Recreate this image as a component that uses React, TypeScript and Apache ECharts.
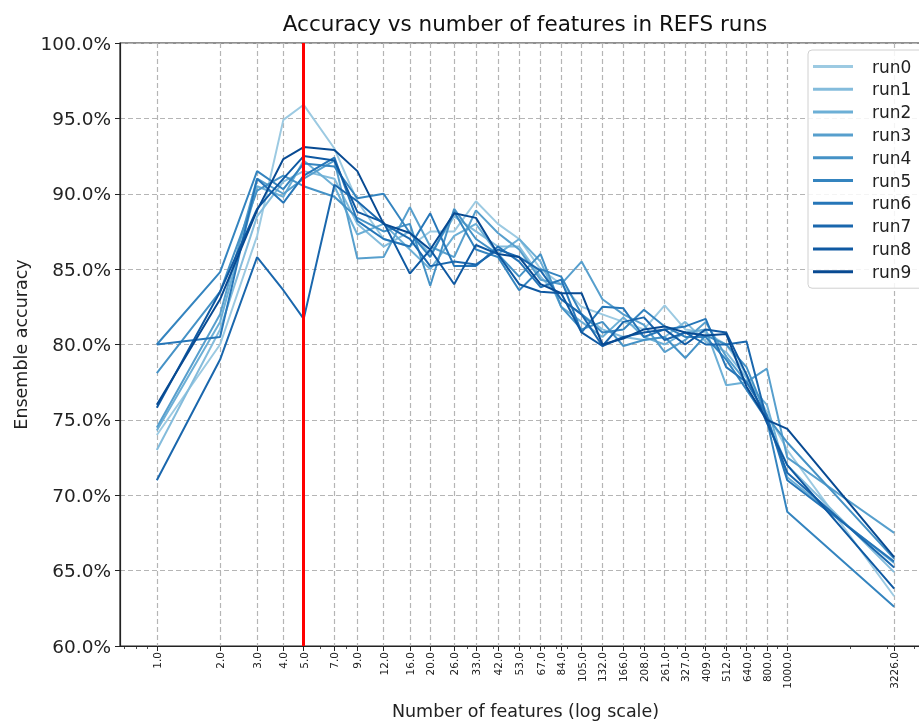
import React, { useEffect, useRef } from "react";
import * as echarts from "echarts";

const features = [1, 2, 3, 4, 5, 7, 9, 12, 16, 20, 26, 33, 42, 53, 67, 84, 105, 132, 166, 208, 261, 327, 409, 512, 640, 800, 1000, 3226];
const minorTicks = [0.7, 0.8, 0.9, 2, 3, 4, 5, 6, 7, 8, 9, 20, 30, 40, 50, 60, 70, 80, 90, 200, 300, 400, 500, 600, 700, 800, 900, 2000, 3000, 4000];
const yTicks = [60, 65, 70, 75, 80, 85, 90, 95, 100];
const bestFeatures = 5;

const run0 = [74.0, 80.0, 87.2, 94.9, 95.9, 93.0, 89.5, 87.0, 86.5, 87.5, 87.5, 89.5, 88.0, 87.0, 85.0, 84.0, 82.5, 82.0, 81.5, 81.0, 82.6, 81.0, 80.8, 80.0, 78.0, 75.5, 73.0, 63.3];
const run1 = [73.0, 81.0, 88.5, 90.8, 91.5, 91.0, 88.0, 86.5, 87.5, 86.0, 88.5, 87.5, 86.5, 86.5, 84.5, 83.0, 82.0, 81.0, 80.5, 80.3, 80.5, 81.5, 80.2, 79.5, 77.8, 75.0, 72.0, 64.9];
const run2 = [74.3, 81.5, 90.5, 89.8, 92.2, 90.5, 87.3, 88.0, 86.3, 85.0, 87.2, 88.0, 86.0, 87.0, 85.5, 82.5, 81.5, 80.5, 81.8, 80.5, 80.0, 80.8, 81.0, 77.3, 77.5, 76.0, 71.2, 65.5];
const run3 = [74.5, 82.0, 91.0, 90.0, 91.0, 92.2, 85.7, 85.8, 89.1, 86.5, 85.8, 88.9, 87.4, 86.3, 84.3, 84.0, 85.5, 83.0, 82.0, 81.3, 79.5, 80.3, 81.5, 79.2, 77.5, 78.4, 72.5, 67.5];
const run4 = [78.1, 83.5, 90.2, 91.2, 90.5, 89.8, 88.4, 87.5, 88.0, 83.9, 89.0, 87.0, 86.0, 84.5, 86.0, 82.5, 81.0, 81.5, 79.9, 80.3, 80.5, 79.1, 80.6, 80.0, 78.5, 75.2, 73.5, 65.8];
const run5 = [80.0, 84.8, 91.5, 90.3, 92.0, 91.8, 89.7, 90.0, 87.4, 85.8, 88.8, 86.3, 85.8, 83.6, 85.0, 84.5, 82.0, 80.8, 81.0, 82.3, 81.2, 80.5, 80.5, 79.0, 77.0, 75.0, 68.9, 62.6];
const run6 = [80.0, 80.5, 91.0, 89.4, 91.2, 92.4, 88.2, 87.0, 86.5, 88.7, 85.2, 85.2, 86.5, 85.5, 83.8, 84.3, 80.8, 82.5, 82.4, 80.5, 81.0, 81.2, 81.7, 78.5, 77.5, 75.3, 71.0, 65.6];
const run7 = [71.0, 79.0, 85.8, 83.6, 81.7, 90.6, 89.5, 88.0, 87.0, 85.2, 85.5, 85.3, 86.3, 85.8, 84.9, 83.0, 82.0, 79.9, 81.5, 81.8, 80.3, 80.8, 80.0, 80.0, 80.2, 75.0, 71.5, 65.2];
const run8 = [75.8, 83.5, 89.0, 91.0, 92.5, 92.2, 88.8, 88.1, 84.7, 86.3, 84.0, 86.6, 86.0, 84.0, 83.5, 83.4, 80.8, 79.9, 80.5, 80.8, 81.0, 80.0, 81.0, 80.8, 78.0, 74.8, 72.0, 63.8];
const run9 = [76.0, 83.0, 88.9, 92.3, 93.1, 92.9, 91.5, 88.0, 87.4, 86.3, 88.7, 88.4, 86.0, 85.8, 84.0, 83.4, 83.4, 80.0, 80.4, 81.0, 81.2, 80.8, 80.6, 80.7, 77.2, 75.0, 74.4, 65.9];

const runNames = ["run0", "run1", "run2", "run3", "run4", "run5", "run6", "run7", "run8", "run9"];
const runValues = [run0, run1, run2, run3, run4, run5, run6, run7, run8, run9];
const runColors = ["#9ccae2", "#84bcdc", "#6cafd6", "#579fcd", "#4592c6", "#3484bf", "#2676b8", "#1a67ad", "#0f59a2", "#084a92"];

const FONT = "DejaVu Sans";

export default function App() {
  const ref = useRef<HTMLDivElement>(null);
  useEffect(() => {
    if (!ref.current) return;
    const chart = echarts.init(ref.current, null, { renderer: "svg" });
    const xMin = 0.668;
    const xMax = 4831;
    const series: any[] = runNames.map((name, k) => ({
      name,
      type: "line",
      xAxisIndex: 0,
      yAxisIndex: 0,
      data: features.map((f, i) => [f, runValues[k][i]]),
      symbol: "none",
      showSymbol: false,
      lineStyle: { color: runColors[k], width: 2 },
      itemStyle: { color: runColors[k] },
      emphasis: { disabled: true },
    }));
    series.push({
      name: "best",
      type: "line",
      xAxisIndex: 0,
      yAxisIndex: 0,
      data: [],
      z: 10,
      markLine: {
        silent: true,
        symbol: ["none", "none"],
        label: { show: false },
        lineStyle: { color: "#ff0000", width: 3, type: "solid" },
        data: [{ xAxis: bestFeatures }],
      },
    });
    chart.setOption({
      animation: false,
      textStyle: { fontFamily: FONT },
      graphic: [
        {
          type: "text",
          x: 525,
          y: 23,
          style: {
            text: "Accuracy vs number of features in REFS runs",
            fontFamily: FONT,
            fontSize: 21.5,
            fill: "#111",
            textAlign: "center",
            textVerticalAlign: "middle",
          },
        },
      ],
      grid: {
        left: 120,
        top: 43,
        right: -12,
        bottom: 76,
        show: true,
        borderColor: "#222",
        borderWidth: 1.2,
        backgroundColor: "transparent",
        outerBoundsMode: "none",
        containLabel: false,
      },
      legend: {
        show: true,
        data: runNames,
        orient: "vertical",
        left: 808,
        top: 50,
        padding: [8, 20, 8, 5],
        icon: "rect",
        itemWidth: 40,
        itemHeight: 3,
        itemGap: 5.8,
        backgroundColor: "rgba(255,255,255,0.85)",
        borderColor: "#d0d0d0",
        borderWidth: 1,
        borderRadius: 4,
        textStyle: { fontFamily: FONT, fontSize: 17, color: "#222", padding: [0, 0, 0, 14] },
      },
      xAxis: [
        {
          type: "log",
          logBase: 10,
          min: xMin,
          max: xMax,
          name: "Number of features (log scale)",
          nameLocation: "middle",
          nameGap: 56,
          nameTextStyle: { fontFamily: FONT, fontSize: 17.5, color: "#222" },
          axisLine: { show: true, onZero: false, lineStyle: { color: "#222", width: 1.2 } },
          axisTick: { show: true, customValues: features, length: 5, lineStyle: { color: "#222", width: 1 } },
          axisLabel: {
            show: true,
            customValues: features,
            rotate: 90,
            fontSize: 10.5,
            fontFamily: FONT,
            color: "#222",
            margin: 6,
            hideOverlap: false,
            formatter: (v: number) => Number(v).toFixed(1),
          },
          splitLine: { show: true, lineStyle: { color: "#b5b5b5", width: 1.2, type: [5, 3] } },
          minorTick: { show: false },
        },
        {
          type: "log",
          logBase: 10,
          min: xMin,
          max: xMax,
          position: "bottom",
          axisLine: { show: false },
          axisTick: { show: true, customValues: minorTicks, length: 3, lineStyle: { color: "#222", width: 0.8 } },
          axisLabel: { show: false },
          splitLine: { show: false },
        },
      ],
      yAxis: {
        type: "value",
        min: 60,
        max: 100,
        interval: 5,
        name: "Ensemble accuracy",
        nameLocation: "middle",
        nameRotate: 90,
        nameGap: 90,
        nameTextStyle: { fontFamily: FONT, fontSize: 17.5, color: "#222" },
        axisLine: { show: true, lineStyle: { color: "#222", width: 1.2 } },
        axisTick: { show: true, length: 5, lineStyle: { color: "#222" } },
        axisLabel: {
          fontSize: 18.5,
          fontFamily: FONT,
          color: "#222",
          margin: 9,
          formatter: (v: number) => (yTicks.includes(v) ? v.toFixed(1) + "%" : ""),
        },
        splitLine: { show: true, lineStyle: { color: "#b5b5b5", width: 1.2, type: [5, 3] } },
      },
      series,
    });
    return () => chart.dispose();
  }, []);
  return <div ref={ref} style={{ position: "fixed", left: 0, top: 0, width: 919, height: 722 }} />;
}
